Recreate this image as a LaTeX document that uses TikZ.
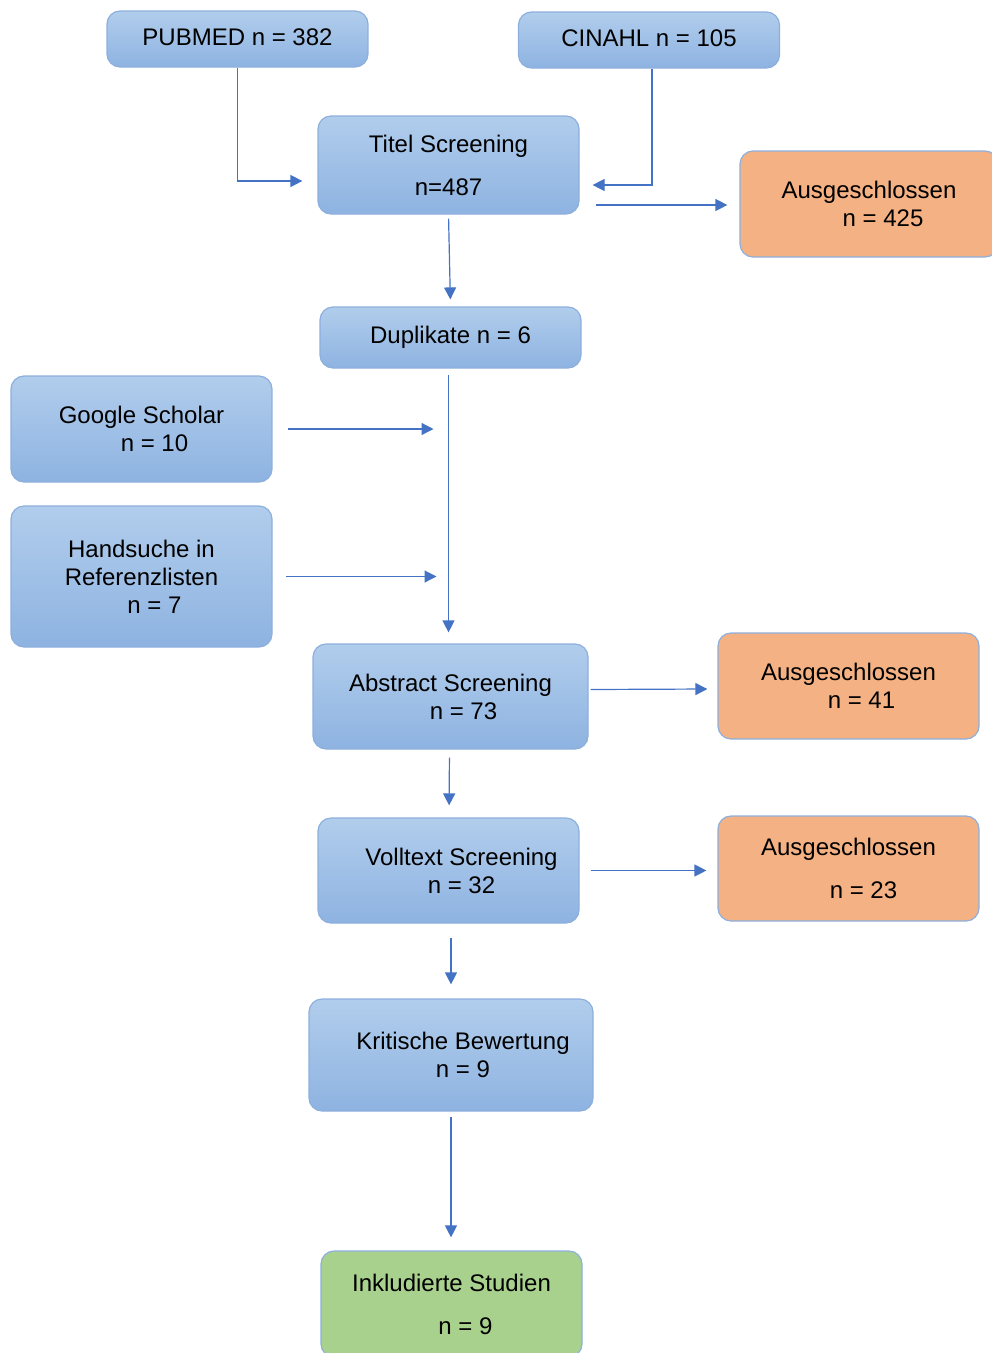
\documentclass[tikz,border=0pt]{standalone}
\usepackage{fontspec}
\setmainfont{Liberation Sans}
\usetikzlibrary{arrows.meta,calc}
\definecolor{bluetop}{HTML}{B1CDEC}
\definecolor{bluebot}{HTML}{8EB3E1}
\definecolor{blueedge}{HTML}{8DAFDD}
\definecolor{orangefill}{HTML}{F4B183}
\definecolor{greenfill}{HTML}{A9D18E}
\definecolor{arrowblue}{HTML}{4472C4}
\tikzset{
  bbox/.style={draw=blueedge, line width=1.2pt, rounded corners=13pt, top color=bluetop, bottom color=bluebot, align=center, inner sep=0pt},
  obox/.style={draw=blueedge, line width=1.2pt, rounded corners=13pt, fill=orangefill, align=center, inner sep=0pt},
  gbox/.style={draw=blueedge, line width=1.2pt, rounded corners=13pt, fill=greenfill, align=center, inner sep=0pt},
  arr/.style={draw=arrowblue, line width=1.2pt, -{Triangle[length=12pt,width=12pt]}}
}
\begin{document}
\begin{tikzpicture}[x=1pt,y=-1pt,font=\fontsize{24}{28}\selectfont]
\useasboundingbox (0,0) rectangle (992,1353);
\clip (0,0) rectangle (992,1353);
\node[bbox, minimum width=261pt, minimum height=56pt] (pub) at (237.5,39) {\raisebox{3pt}{PUBMED n = 382}};
\node[bbox, minimum width=261pt, minimum height=56pt] (cin) at (649,40) {\raisebox{3pt}{CINAHL n = 105}};
\node[bbox, minimum width=261pt, minimum height=98pt] (titel) at (448.5,165) {Titel Screening\\[15pt]n=487};
\node[obox, minimum width=258pt, minimum height=106pt] (aus1) at (869,204) {Ausgeschlossen\\\hspace*{28pt}n = 425};
\node[bbox, minimum width=261pt, minimum height=61pt] (dup) at (450.5,337.5) {\raisebox{3pt}{Duplikate n = 6}};
\node[bbox, minimum width=261pt, minimum height=106pt] (google) at (141.5,429) {Google Scholar\\\hspace*{26pt}n = 10};
\node[bbox, minimum width=261pt, minimum height=141pt] (hand) at (141.5,576.5) {Handsuche in\\Referenzlisten\\\hspace*{26pt}n = 7};
\node[bbox, minimum width=275pt, minimum height=105pt] (abs) at (450.5,696.5) {Abstract Screening\\\hspace*{26pt}n = 73};
\node[obox, minimum width=261pt, minimum height=106pt] (aus2) at (848.5,686) {Ausgeschlossen\\\hspace*{26pt}n = 41};
\node[bbox, minimum width=261pt, minimum height=105pt] (voll) at (448.5,870.5) {\hspace*{26pt}Volltext Screening\\\hspace*{26pt}n = 32};
\node[obox, minimum width=261pt, minimum height=105pt] (aus3) at (848.5,868.5) {Ausgeschlossen\\[15pt]\hspace*{30pt}n = 23};
\node[bbox, minimum width=284pt, minimum height=112pt] (krit) at (451,1055) {\hspace*{24pt}Kritische Bewertung\\\hspace*{24pt}n = 9};
\node[gbox, minimum width=261pt, minimum height=106pt] (ink) at (451.5,1304) {Inkludierte Studien\\[15pt]\hspace*{28pt}n = 9};
% connectors
\draw[arr, shorten >=15pt] (pub.south) |- ($(titel.west)+(0,16)$);
\draw[arr, shorten >=13pt] ($(cin.south)+(3,0)$) |- ($(titel.east)+(0,20)$);
\draw[arr] ($(titel.east)+(16,40)$) -- ($(aus1.west)+(-12,1)$);
\draw[arr, shorten <=4pt, shorten >=7pt] (titel.south) -- (dup.north);
\draw[arr, shorten <=6pt, shorten >=11pt] ($(dup.south)+(-2,0)$) -- ($(abs.north)+(-2,0)$);
\draw[arr, shorten <=15pt, shorten >=17pt] (google.east) -- (google.east -| dup.south);
\draw[arr, shorten <=13pt, shorten >=14pt] (hand.east) -- (hand.east -| dup.south);
\draw[arr] ($(abs.east)+(2,-7)$) -- ($(aus2.west)+(-10,3)$);
\draw[arr, shorten <=8pt, shorten >=12pt] ($(abs.south)+(-1,0)$) -- ($(voll.north)+(0.5,0)$);
\draw[arr, shorten <=11pt, shorten >=11pt] (voll.east) -- (voll.east -| aus3.west);
\draw[arr, shorten <=14pt, shorten >=14pt] ($(voll.south)+(2.5,0)$) -- ($(krit.north)+(0,0)$);
\draw[arr, shorten <=5pt, shorten >=13pt] (krit.south) -- ($(ink.north)+(-0.5,0)$);
\end{tikzpicture}
\end{document}
